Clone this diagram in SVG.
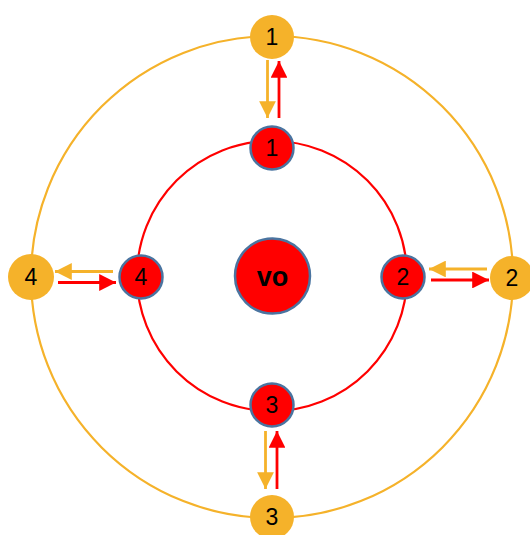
<svg xmlns="http://www.w3.org/2000/svg" width="530" height="535" viewBox="0 0 530 535">
<defs>
<marker id="ay" viewBox="0 0 10 10" refX="10" refY="5" markerWidth="6" markerHeight="6" markerUnits="strokeWidth" orient="auto"><path d="M0,0 L10,5 L0,10 z" fill="#F5B22A"/></marker>
<marker id="ar" viewBox="0 0 10 10" refX="10" refY="5" markerWidth="6" markerHeight="6" markerUnits="strokeWidth" orient="auto"><path d="M0,0 L10,5 L0,10 z" fill="#FF0000"/></marker>
</defs>
<style>
.ring-o{fill:none;stroke:#F5B22A;stroke-width:2.2}
.ring-i{fill:none;stroke:#FF0000;stroke-width:2.2}
.yn{fill:#F5B22A;stroke:none}
.rn{fill:#FF0000;stroke:#4A74A0;stroke-width:2.5}
.t{font-family:"Liberation Sans",Arial,sans-serif;font-size:23px;fill:#000;text-anchor:middle}
.tb{font-family:"Liberation Sans",Arial,sans-serif;font-size:27px;font-weight:bold;fill:#000;text-anchor:middle}
.ya{stroke:#F5B22A;stroke-width:2.8;fill:none;marker-end:url(#ay)}
.ra{stroke:#FF0000;stroke-width:2.8;fill:none;marker-end:url(#ar)}
</style>
<g id="rings">
<circle class="ring-o" cx="272" cy="277" r="241"/>
<circle class="ring-i" cx="272" cy="276" r="135"/>
</g>
<g id="connectors">
<line class="ya" x1="267.5" y1="60" x2="267.5" y2="118"/>
<line class="ra" x1="279" y1="118" x2="279" y2="61"/>
<line class="ya" x1="113" y1="271.5" x2="55" y2="271.5"/>
<line class="ra" x1="58" y1="282.5" x2="116" y2="282.5"/>
<line class="ya" x1="487" y1="269" x2="429" y2="269"/>
<line class="ra" x1="431" y1="280" x2="489" y2="280"/>
<line class="ya" x1="265.5" y1="431" x2="265.5" y2="489"/>
<line class="ra" x1="277" y1="489" x2="277" y2="431"/>
</g>
<g id="vo"><circle class="rn" cx="272.5" cy="276" r="37.5"/><text class="tb" x="272.5" y="286">vo</text></g>
<g id="y1"><circle class="yn" cx="272" cy="37" r="22"/><text class="t" x="272" y="45">1</text></g>
<g id="y2"><circle class="yn" cx="512" cy="278" r="22"/><text class="t" x="512" y="286">2</text></g>
<g id="y3"><circle class="yn" cx="272" cy="517" r="22"/><text class="t" x="272" y="525">3</text></g>
<g id="y4"><circle class="yn" cx="31" cy="277" r="23"/><text class="t" x="31" y="285">4</text></g>
<g id="r1"><circle class="rn" cx="272" cy="148" r="21.5"/><text class="t" x="272" y="156">1</text></g>
<g id="r2"><circle class="rn" cx="403" cy="277" r="21.5"/><text class="t" x="403" y="285">2</text></g>
<g id="r3"><circle class="rn" cx="272" cy="405" r="21.5"/><text class="t" x="272" y="413">3</text></g>
<g id="r4"><circle class="rn" cx="141" cy="277" r="21.5"/><text class="t" x="141" y="285">4</text></g>
</svg>
